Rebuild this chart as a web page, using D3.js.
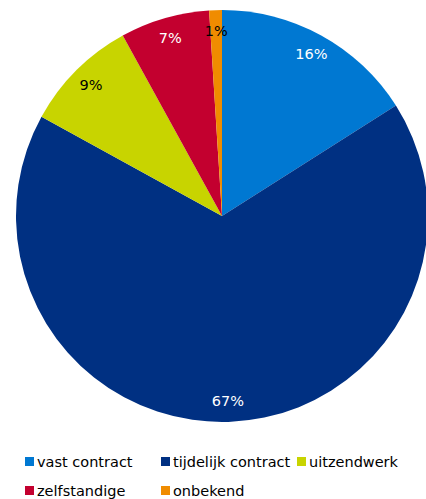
<!DOCTYPE html>
<html lang="nl">
<head>
<meta charset="UTF-8">
<title>Contract</title>
<style>
  body{ margin:0; background:#fff; }
  text{ font-family: "DejaVu Sans", Verdana, sans-serif; }
</style>
</head>
<body>
<div id="chart"></div>
<script src="https://cdn.jsdelivr.net/npm/d3@7"></script>
<script>
var categories = ["vast contract", "tijdelijk contract", "uitzendwerk", "zelfstandige", "onbekend"];
var values = [16, 67, 9, 7, 1];
var colors = ["#0078d2", "#003082", "#c8d400", "#c3002f", "#f08c00"];
var labelColors = ["#fff", "#fff", "#000", "#fff", "#000"];

var width = 426, height = 499;
var cx = 222, cy = 216, r = 206;

var svg = d3.select("#chart").append("svg")
    .attr("width", width)
    .attr("height", height);

var data = categories.map(function(c, i){ return {name: c, value: values[i], i: i}; });

var pie = d3.pie().sort(null).value(function(d){ return d.value; });
var arc = d3.arc().innerRadius(0).outerRadius(r);
var labelArc = d3.arc().innerRadius(r * 0.9).outerRadius(r * 0.9);

var g = svg.append("g").attr("transform", "translate(" + cx + "," + cy + ")");

var slices = g.selectAll(".slice")
    .data(pie(data))
    .enter().append("g")
    .attr("class", "slice");

slices.append("path")
    .attr("d", arc)
    .attr("fill", function(d){ return colors[d.data.i]; });

slices.append("text")
    .attr("transform", function(d){ return "translate(" + labelArc.centroid(d) + ")"; })
    .attr("text-anchor", "middle")
    .attr("dominant-baseline", "central")
    .attr("font-size", 14.5)
    .attr("fill", function(d){ return labelColors[d.data.i]; })
    .text(function(d){ return d.data.value + "%"; });

// legend: 3 columns
var colX = [25, 161, 297];
var rowY = [462, 491];
var legend = svg.append("g").selectAll(".leg")
    .data(data)
    .enter().append("g")
    .attr("class", "leg")
    .attr("transform", function(d, i){
        return "translate(" + colX[i % 3] + "," + rowY[Math.floor(i / 3)] + ")";
    });

legend.append("rect")
    .attr("x", 0).attr("y", -5)
    .attr("width", 9).attr("height", 9)
    .attr("fill", function(d){ return colors[d.i]; });

legend.append("text")
    .attr("x", 12)
    .attr("dominant-baseline", "central")
    .attr("font-size", 14.5)
    .attr("fill", "#000")
    .text(function(d){ return d.name; });
</script>
</body>
</html>
